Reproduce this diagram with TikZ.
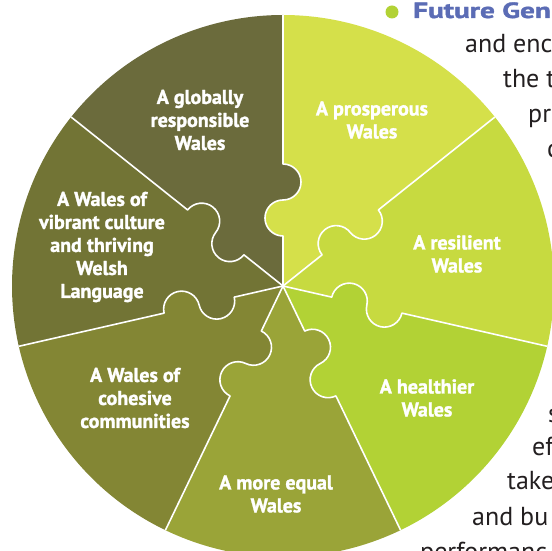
\documentclass[tikz,border=0pt]{standalone}
\usepackage{graphicx}
\usepackage{fontspec}
\setmainfont{PT Sans}
\newfontfamily\goalfont{PT Sans}[BoldFeatures={FakeBold=1.5}]
\usetikzlibrary{positioning}
\definecolor{fgprosper}{HTML}{D5E04A}
\definecolor{fgresil}{HTML}{C7DA40}
\definecolor{fghealth}{HTML}{B2D235}
\definecolor{fgequal}{HTML}{9AA438}
\definecolor{fgcohes}{HTML}{838634}
\definecolor{fgculture}{HTML}{727435}
\definecolor{fgglobal}{HTML}{6B6B3C}
\definecolor{fgblue}{HTML}{5B6CB5}
\definecolor{fgtext}{HTML}{231F20}
\tikzset{
  tabsout/.style={insert path={-- (#1:50) arc[start angle=#1+180, end angle=#1, radius=18]
      arc[start angle=#1+180, end angle=#1+360, radius=18] -- (#1:271)}},
  tabsin/.style={insert path={-- (#1:122) arc[start angle=#1, end angle=#1-180, radius=18]
      arc[start angle=#1, end angle=#1+180, radius=18] -- (0,0)}},
  seam/.style={white, line width=1.6, line join=round},
  goal/.style={text=white, font=\goalfont\bfseries\fontsize{20}{23}\selectfont, align=center, inner sep=0},
  body/.style={anchor=base west, text=fgtext, font=\fontsize{26}{30}\selectfont, inner sep=0},
}

\begin{document}
\begin{tikzpicture}[x=1pt, y=1pt]
    \useasboundingbox (-283,-265) rectangle (269,286);
    \clip (-283,-265) rectangle (269,286);
    \fill[white] (-283,-265) rectangle (269,286);
    \foreach \a/\b/\col in {38.571/90/fgprosper, -12.857/38.571/fgresil,
        -64.286/-12.857/fghealth, -115.714/-64.286/fgequal,
        -167.143/-115.714/fgcohes, -218.571/-167.143/fgculture, 90/141.429/fgglobal}
      \fill[\col] (0,0) [tabsout=\a] arc[start angle=\a, end angle=\b, radius=271] [tabsin=\b] -- cycle;
    \foreach \a in {90, 38.571, -12.857, -64.286, -115.714, -167.143, 141.429}
      \draw[seam] (0,0) [tabsout=\a];
    \node[goal] (prosper) at (89,166) {A prosperous\\Wales};
    \node[goal] (resil) at (174,32) {A resilient\\Wales};
    \node[goal] (health) at (144,-112) {A healthier\\Wales};
    \node[goal] (equal) at (-7,-208) {A more equal\\Wales};
    \node[goal] (cohes) at (-148,-112) {A Wales of\\cohesive\\communities};
    \node[goal] (culture) at (-181,39) {A Wales of\\vibrant culture\\and thriving\\Welsh\\Language};
    \node[goal] (global) at (-83,166) {A globally\\responsible\\Wales};
    \fill[fghealth] (109,274) circle[radius=6.5];
    \node[anchor=base west, inner sep=0, text=fgblue, font=\goalfont\bfseries\fontsize{22}{28}\selectfont] (fgtitle) at (130,268) {\scalebox{1.33}[1]{Future Gen}};
    \node[body] (enc) at (182,233) {and enc};
    \node[body] (thet) at (220,198) {the t};
    \node[body] (pr) at (245,163) {pr};
    \node[body] (co) at (264,128) {c};
    \node[body] (s) at (265,-137) {s};
    \node[body] (ef) at (249,-169) {ef};
    \node[body] (take) at (224,-204) {take};
    \node[body] (andbu) at (189,-239) {and bu};
    \node[body] (perf) at (137,-274) {performanc};
  \end{tikzpicture}
\end{document}
